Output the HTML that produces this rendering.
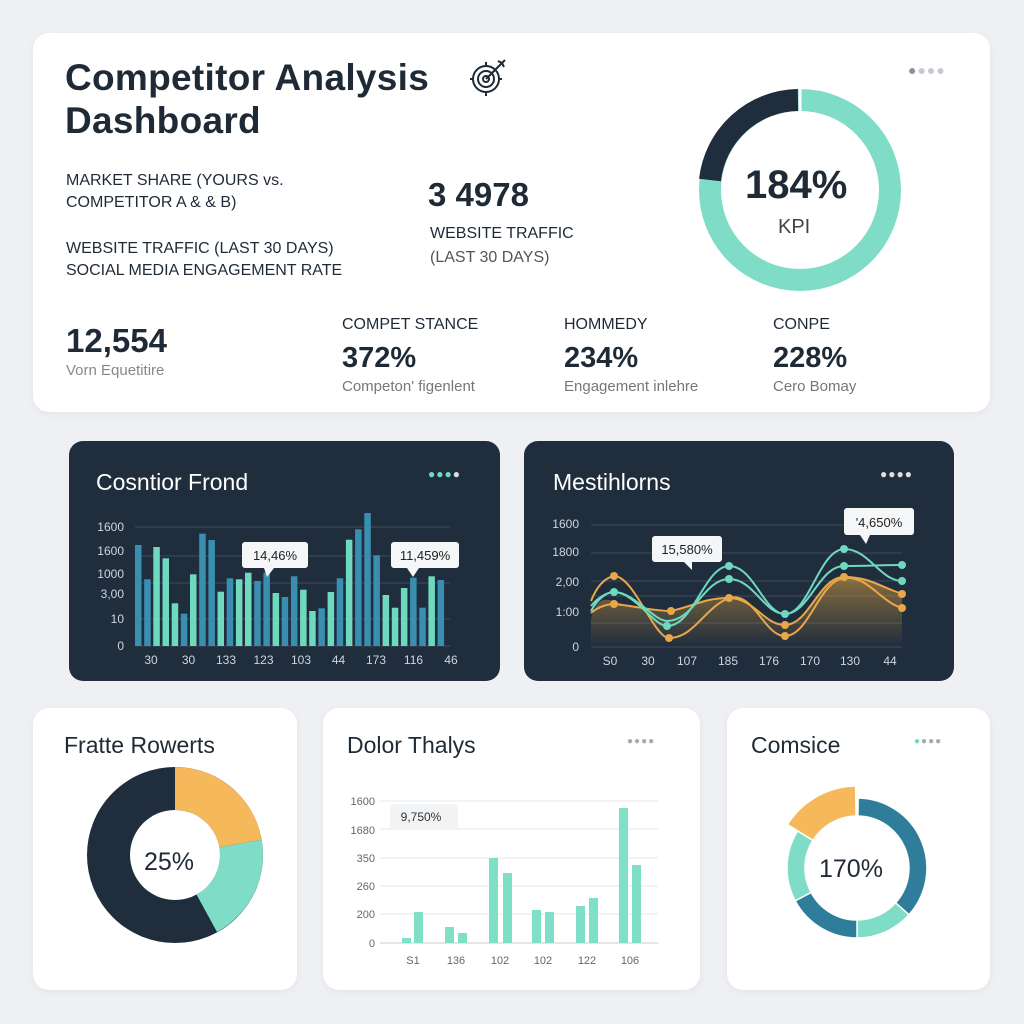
<!DOCTYPE html><html><head><style>
body{margin:0;width:1024px;height:1024px;background:#eef0f3;font-family:"Liberation Sans",sans-serif;position:relative;overflow:hidden}
.c{position:absolute;background:#fff;border-radius:16px;box-shadow:0 2px 8px rgba(0,0,0,.05)}
.d{position:absolute;background:#1f2d3d;border-radius:14px}
.t{position:absolute;color:#1f2a37;white-space:nowrap}
</style></head><body>
<div class="c" style="left:33px;top:33px;width:957px;height:379px"></div>
<div class="t" style="left:65px;top:56px;font-size:37px;font-weight:bold;line-height:43px;letter-spacing:0.3px">Competitor Analysis<br>Dashboard</div>
<svg style="position:absolute;left:468px;top:56px" width="42" height="42"><g fill="none" stroke="#1f2a37" stroke-width="2"><circle cx="18" cy="23" r="13"/><circle cx="18" cy="23" r="8"/><circle cx="18" cy="23" r="3"/><line x1="18" y1="6" x2="18" y2="10"/><line x1="18" y1="36" x2="18" y2="40"/><line x1="2" y1="23" x2="5" y2="23"/><line x1="31" y1="23" x2="34" y2="23"/><line x1="18" y1="23" x2="34" y2="7"/><path d="M30 5 L34 7 L36 11 M34 7 L37 4"/></g></svg>
<div class="t" style="left:908px;top:62px;font-size:14px;color:#8a94a0;letter-spacing:1px">●<span style="color:#c5cad0">●●●</span></div>
<div class="t" style="left:66px;top:170px;font-size:16px;line-height:22px">MARKET SHARE (YOURS vs.<br>COMPETITOR A &amp; &amp; B)</div>
<div class="t" style="left:66px;top:238px;font-size:16px;line-height:22px">WEBSITE TRAFFIC (LAST 30 DAYS)<br>SOCIAL MEDIA ENGAGEMENT RATE</div>
<div class="t" style="left:428px;top:176px;font-size:33px;font-weight:bold">3 4978</div>
<div class="t" style="left:430px;top:222px;font-size:16px;line-height:24px">WEBSITE TRAFFIC<br><span style="color:#555">(LAST 30 DAYS)</span></div>
<svg style="position:absolute;left:690px;top:80px" width="220" height="220"><circle cx="110" cy="110" r="90" fill="none" stroke="#7fdcc6" stroke-width="22"/><path d="M20 100 A90 90 0 0 1 108 20" fill="none" stroke="#1f2d3d" stroke-width="22"/><line x1="110" y1="8" x2="110" y2="32" stroke="#fff" stroke-width="3"/></svg>
<div class="t" style="left:745px;top:163px;font-size:40px;font-weight:bold">184%</div>
<div class="t" style="left:778px;top:216px;font-size:20px;color:#444">KPI</div>
<div class="t" style="left:66px;top:322px;font-size:33px;font-weight:bold">12,554</div>
<div class="t" style="left:66px;top:362px;font-size:15px;color:#888">Vorn Equetitire</div>
<div class="t" style="left:342px;top:316px;font-size:16px">COMPET STANCE</div>
<div class="t" style="left:342px;top:342px;font-size:29px;font-weight:bold">372%</div>
<div class="t" style="left:342px;top:378px;font-size:15px;color:#777">Competon' figenlent</div>
<div class="t" style="left:564px;top:316px;font-size:16px">HOMMEDY</div>
<div class="t" style="left:564px;top:342px;font-size:29px;font-weight:bold">234%</div>
<div class="t" style="left:564px;top:378px;font-size:15px;color:#777">Engagement inlehre</div>
<div class="t" style="left:773px;top:316px;font-size:16px">CONPE</div>
<div class="t" style="left:773px;top:342px;font-size:29px;font-weight:bold">228%</div>
<div class="t" style="left:773px;top:378px;font-size:15px;color:#777">Cero Bomay</div>

<div class="d" style="left:69px;top:441px;width:431px;height:240px"></div>
<div class="t" style="left:96px;top:469px;font-size:23px;color:#fff">Cosntior Frond</div>
<div class="t" style="left:428px;top:467px;font-size:12px;color:#6fd9bf;letter-spacing:1px">●●●<span style="color:#ddd">●</span></div>
<svg style="position:absolute;left:69px;top:441px" width="431" height="240" id="bar"></svg>

<div class="d" style="left:524px;top:441px;width:430px;height:240px"></div>
<div class="t" style="left:553px;top:469px;font-size:23px;color:#fff">Mestihlorns</div>
<div class="t" style="left:880px;top:467px;font-size:12px;color:#ddd;letter-spacing:1px">●●●●</div>
<svg style="position:absolute;left:524px;top:441px" width="430" height="240">
<defs><linearGradient id="g" x1="0" y1="0" x2="0" y2="1"><stop offset="0" stop-color="#e0a23e" stop-opacity=".55"/><stop offset="1" stop-color="#e0a23e" stop-opacity="0"/></linearGradient></defs>
<g stroke="#3c4b5c" stroke-width="1"><line x1="67" y1="84" x2="378" y2="84"/><line x1="67" y1="112" x2="378" y2="112"/><line x1="67" y1="140" x2="378" y2="140"/><line x1="67" y1="155" x2="378" y2="155"/><line x1="67" y1="182" x2="378" y2="182"/><line x1="67" y1="206" x2="378" y2="206"/></g>
<g fill="#cfd6dd" font-size="12" text-anchor="end"><text x="55" y="87">1600</text><text x="55" y="115">1800</text><text x="55" y="145">2,00</text><text x="55" y="175">1:00</text><text x="55" y="210">0</text></g>
<g fill="#cfd6dd" font-size="12" text-anchor="middle"><text x="86" y="224">S0</text><text x="124" y="224">30</text><text x="163" y="224">107</text><text x="204" y="224">185</text><text x="245" y="224">176</text><text x="286" y="224">170</text><text x="326" y="224">130</text><text x="366" y="224">44</text></g>
<path d="M67 178 C75 150 85 160 100 163 C120 166 130 170 147 170 C170 165 180 157 205 157 C230 157 240 184 261 184 C285 184 295 136 320 136 C345 136 355 145 378 155 L378 206 L67 206Z" fill="url(#g)"/>
<g fill="none" stroke-width="2"><path d="M67 160 C75 140 85 136 90 135 C110 135 130 197 145 197 C170 197 180 167 205 157 C230 150 240 195 261 195 C285 195 295 140 320 137 C345 135 355 160 378 167" stroke="#e8a84a"/><path d="M67 172 C75 165 85 163 90 163 C110 165 130 170 147 170 C170 165 180 157 205 157 C230 157 240 184 261 184 C285 184 295 136 320 136 C345 136 355 145 378 153" stroke="#e8a84a"/><path d="M67 165 C75 155 85 151 90 151 C110 151 130 185 143 185 C170 185 180 126 205 125 C230 125 240 173 261 173 C285 173 295 109 320 108 C345 108 355 139 378 140" stroke="#6fd9bf"/><path d="M67 170 C75 155 85 151 90 151 C110 151 130 180 143 180 C170 180 180 138 205 138 C230 138 240 173 261 173 C285 173 295 125 320 125 C345 125 355 124 378 124" stroke="#6fd9bf"/></g>
<g fill="#e8a84a"><circle cx="90" cy="135" r="4"/><circle cx="90" cy="163" r="4"/><circle cx="147" cy="170" r="4"/><circle cx="145" cy="197" r="4"/><circle cx="205" cy="157" r="4"/><circle cx="261" cy="184" r="4"/><circle cx="261" cy="195" r="4"/><circle cx="320" cy="136" r="4"/><circle cx="378" cy="153" r="4"/><circle cx="378" cy="167" r="4"/></g>
<g fill="#6fd9bf"><circle cx="90" cy="151" r="4"/><circle cx="143" cy="185" r="4"/><circle cx="205" cy="125" r="4"/><circle cx="205" cy="138" r="4"/><circle cx="261" cy="173" r="4"/><circle cx="320" cy="108" r="4"/><circle cx="320" cy="125" r="4"/><circle cx="378" cy="124" r="4"/><circle cx="378" cy="140" r="4"/></g>
<g><rect x="128" y="95" width="70" height="26" rx="3" fill="#f4f6f8"/><path d="M160 121 L168 121 L168 129Z" fill="#f4f6f8"/><text x="163" y="113" font-size="13" text-anchor="middle" fill="#222">15,580%</text>
<rect x="320" y="67" width="70" height="27" rx="3" fill="#f4f6f8"/><path d="M336 94 L346 94 L342 103Z" fill="#f4f6f8"/><text x="355" y="86" font-size="13" text-anchor="middle" fill="#222">'4,650%</text></g>
</svg>

<div class="c" style="left:33px;top:708px;width:264px;height:282px"></div>
<div class="t" style="left:64px;top:732px;font-size:23px">Fratte Rowerts</div>
<svg style="position:absolute;left:87px;top:767px" width="176" height="176"><g transform="translate(88,88)"><circle r="66" fill="none" stroke="#1f2d3d" stroke-width="44"/><path d="M0 -88 A88 88 0 0 1 86.7 -15.3 L44.3 -7.8 A45 45 0 0 0 0 -45Z" fill="#f5b85a"/><path d="M86.7 -15.3 A88 88 0 0 1 42 77 L21.5 39.5 A45 45 0 0 0 44.3 -7.8Z" fill="#7fdcc6"/><circle r="45" fill="#fff"/></g></svg>
<div class="t" style="left:144px;top:848px;font-size:25px">25%</div>

<div class="c" style="left:323px;top:708px;width:377px;height:282px"></div>
<div class="t" style="left:347px;top:732px;font-size:23px">Dolor Thalys</div>
<div class="t" style="left:627px;top:736px;font-size:10px;color:#aaa;letter-spacing:1px">●●●●</div>
<svg style="position:absolute;left:323px;top:708px" width="377" height="282">
<g stroke="#e4e7ea"><line x1="57" y1="93" x2="335" y2="93"/><line x1="57" y1="121" x2="335" y2="121"/><line x1="57" y1="150" x2="335" y2="150"/><line x1="57" y1="178" x2="335" y2="178"/><line x1="57" y1="206" x2="335" y2="206"/><line x1="57" y1="235" x2="335" y2="235" stroke="#ccc"/></g>
<g fill="#666" font-size="11" text-anchor="end"><text x="52" y="97">1600</text><text x="52" y="126">1680</text><text x="52" y="154">350</text><text x="52" y="182">260</text><text x="52" y="210">200</text><text x="52" y="239">0</text></g>
<g fill="#666" font-size="11" text-anchor="middle"><text x="90" y="256">S1</text><text x="133" y="256">136</text><text x="177" y="256">102</text><text x="220" y="256">102</text><text x="264" y="256">122</text><text x="307" y="256">106</text></g>
<g fill="#7fe0c8"><rect x="79" y="230" width="9" height="5"/><rect x="91" y="204" width="9" height="31"/><rect x="122" y="219" width="9" height="16"/><rect x="135" y="225" width="9" height="10"/><rect x="166" y="150" width="9" height="85"/><rect x="180" y="165" width="9" height="70"/><rect x="209" y="202" width="9" height="33"/><rect x="222" y="204" width="9" height="31"/><rect x="253" y="198" width="9" height="37"/><rect x="266" y="190" width="9" height="45"/><rect x="296" y="100" width="9" height="135"/><rect x="309" y="157" width="9" height="78"/></g>
<rect x="67" y="96" width="68" height="26" rx="3" fill="#f1f3f5"/><text x="98" y="113" font-size="12" text-anchor="middle" fill="#333">9,750%</text>
</svg>

<div class="c" style="left:727px;top:708px;width:263px;height:282px"></div>
<div class="t" style="left:751px;top:732px;font-size:23px">Comsice</div>
<div class="t" style="left:914px;top:736px;font-size:10px;color:#aaa;letter-spacing:1px"><span style="color:#6fd9bf">●</span>●●●</div>
<svg style="position:absolute;left:757px;top:768px" width="200" height="200" id="dn"></svg>
<div class="t" style="left:819px;top:855px;font-size:25px">170%</div>

<script>
var s=document.getElementById('bar'),h='';
var tops=[312,415,318,352,487,518,400,278,297,452,412,415,395,420,395,456,468,406,446,510,502,453,412,296,265,216,343,462,500,441,410,500,406,417];
var col="bbmmmbmbbmbmmbbmbbmmbmbmbbbmmmbbmb";
h+='<g stroke="#3c4b5c"><line x1="66" y1="86" x2="381" y2="86"/><line x1="66" y1="115" x2="381" y2="115"/><line x1="66" y1="142" x2="381" y2="142"/><line x1="66" y1="178" x2="381" y2="178"/><line x1="66" y1="205" x2="381" y2="205"/></g>';
tops.forEach(function(t,i){var x=66+i*9.17,y=t/3;h+='<rect x="'+x.toFixed(1)+'" y="'+y.toFixed(1)+'" width="6.5" height="'+(205-y).toFixed(1)+'" fill="'+(col[i]=='m'?'#6fd9bf':'#3a8fb0')+'"/>';});
h+='<g fill="#cfd6dd" font-size="12" text-anchor="end"><text x="55" y="90">1600</text><text x="55" y="114">1600</text><text x="55" y="137">1000</text><text x="55" y="157">3,00</text><text x="55" y="182">10</text><text x="55" y="209">0</text></g>';
var xl=['30','30','133','123','103','44','173','116','46'];xl.forEach(function(l,i){h+='<text x="'+(82+i*37.5)+'" y="223" fill="#cfd6dd" font-size="12" text-anchor="middle">'+l+'</text>';});
h+='<rect x="173" y="101" width="66" height="26" rx="3" fill="#f4f6f8"/><path d="M195 127 L205 127 L198 136Z" fill="#f4f6f8"/><text x="206" y="119" font-size="13" text-anchor="middle" fill="#222">14,46%</text>';
h+='<rect x="322" y="101" width="68" height="26" rx="3" fill="#f4f6f8"/><path d="M338 127 L350 127 L344 136Z" fill="#f4f6f8"/><text x="356" y="119" font-size="13" text-anchor="middle" fill="#222">11,459%</text>';
s.innerHTML=h;
function arc(cx,cy,ro,ri,a0,a1,c){function p(r,a){a=(a-90)*Math.PI/180;return (cx+r*Math.cos(a)).toFixed(1)+' '+(cy+r*Math.sin(a)).toFixed(1);}
var l=(a1-a0)>180?1:0;return '<path d="M'+p(ro,a0)+' A'+ro+' '+ro+' 0 '+l+' 1 '+p(ro,a1)+' L'+p(ri,a1)+' A'+ri+' '+ri+' 0 '+l+' 0 '+p(ri,a0)+'Z" fill="'+c+'" stroke="#fff" stroke-width="1.5"/>';}
var cx=100,cy=100,d='';
d+=arc(cx,cy,70,52,1,132,'#2f7d9a');d+=arc(cx,cy,70,52,132,180,'#7fdcc6');d+=arc(cx,cy,70,52,180,242,'#2f7d9a');d+=arc(cx,cy,70,52,242,302,'#7fdcc6');d+=arc(cx,cy,82,52,302,359,'#f5b85a');
document.getElementById('dn').innerHTML=d;
</script>
</body></html>
